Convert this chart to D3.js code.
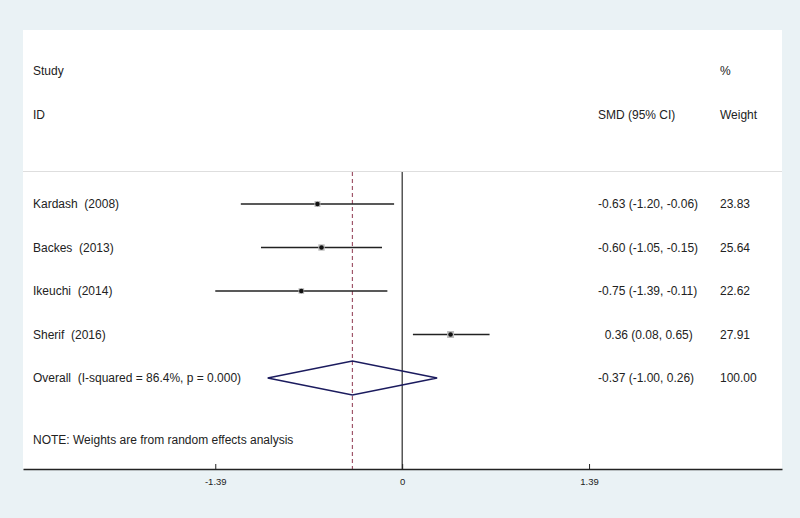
<!DOCTYPE html>
<html><head><meta charset="utf-8">
<script src="https://cdn.jsdelivr.net/npm/d3@7"></script>
<style>
body{margin:0;background:#eaf2f5;}
svg{display:block;font-family:"Liberation Sans",Arial,sans-serif;}
text{white-space:pre;}
</style></head><body>
<svg id="c" width="800" height="518"></svg>
<script>
const studies = ["Kardash  (2008)", "Backes  (2013)", "Ikeuchi  (2014)", "Sherif  (2016)"];
const smd = [-0.63, -0.60, -0.75, 0.36];
const lower = [-1.20, -1.05, -1.39, 0.08];
const upper = [-0.06, -0.15, -0.11, 0.65];
const weights = [23.83, 25.64, 22.62, 27.91];
const overallLabel = "Overall  (I-squared = 86.4%, p = 0.000)";
const overall = [-0.37, -1.00, 0.26];
const tickValues = [-1.39, 0, 1.39];
const tickLabels = ["-1.39", "0", "1.39"];

const svg = d3.select("#c");
svg.append("rect").attr("width",800).attr("height",518).attr("fill","#eaf2f5");
svg.append("rect").attr("x",23).attr("y",30).attr("width",759).attr("height",439).attr("fill","#fff");

const x = d3.scaleLinear().domain([-2.82, 2.825]).range([23, 782]);
const rows = d3.scaleLinear().domain([0, 4]).range([204, 378]);
const fmt = v => d3.format(".2f")(v).replace("\u2212","-");
const fs = 12;

// headers
const hdr = [["Study",33,75],["ID",33,119],["SMD (95% CI)",598,119],["%",720,75],["Weight",720,119]];
hdr.forEach(h=>svg.append("text").attr("x",h[1]).attr("y",h[2]).attr("font-size",fs).attr("fill","#222").text(h[0]));

svg.append("line").attr("x1",23).attr("x2",782).attr("y1",171.5).attr("y2",171.5).attr("stroke","#dedede");

const yTop = 172, yBot = 469;
svg.append("line").attr("x1",x(0)).attr("x2",x(0)).attr("y1",yTop).attr("y2",yBot).attr("stroke","#000").attr("stroke-width",1);
svg.append("line").attr("x1",x(overall[0])).attr("x2",x(overall[0])).attr("y1",yTop).attr("y2",yBot)
  .attr("stroke","#a0566a").attr("stroke-width",1.2).attr("stroke-dasharray","4,3");

studies.forEach((s,i)=>{
  const y = rows(i);
  svg.append("line").attr("x1",x(lower[i])).attr("x2",x(upper[i])).attr("y1",y).attr("y2",y).attr("stroke","#222").attr("stroke-width",1.3);
  const sz = weights[i]*0.25;
  svg.append("rect").attr("x",x(smd[i])-sz/2).attr("y",y-sz/2).attr("width",sz).attr("height",sz).attr("fill","#bdbdbd");
  svg.append("circle").attr("cx",x(smd[i])).attr("cy",y).attr("r",2.3).attr("fill","#111");
  svg.append("text").attr("x",33).attr("y",y+4).attr("font-size",fs).attr("fill","#222").text(s);
  const pre = smd[i] >= 0 ? "  " : "";
  svg.append("text").attr("x",598).attr("y",y+4).attr("font-size",fs).attr("fill","#222")
    .text(`${pre}${fmt(smd[i])} (${fmt(lower[i])}, ${fmt(upper[i])})`);
  svg.append("text").attr("x",720).attr("y",y+4).attr("font-size",fs).attr("fill","#222").text(fmt(weights[i]));
});

// overall
const yo = rows(4);
svg.append("path").attr("d",`M${x(overall[1])},${yo}L${x(overall[0])},${yo-17}L${x(overall[2])},${yo}L${x(overall[0])},${yo+17}Z`)
  .attr("fill","none").attr("stroke","#1b1b5e").attr("stroke-width",1.5);
svg.append("text").attr("x",33).attr("y",yo+4).attr("font-size",fs).attr("fill","#222").text(overallLabel);
svg.append("text").attr("x",598).attr("y",yo+4).attr("font-size",fs).attr("fill","#222")
  .text(`${fmt(overall[0])} (${fmt(overall[1])}, ${fmt(overall[2])})`);
svg.append("text").attr("x",720).attr("y",yo+4).attr("font-size",fs).attr("fill","#222").text("100.00");

svg.append("text").attr("x",33).attr("y",444).attr("font-size",fs).attr("fill","#222").text("NOTE: Weights are from random effects analysis");

// axis
const axis = d3.axisBottom(x).tickValues(tickValues).tickFormat((d,i)=>tickLabels[i]).tickSizeInner(-5).tickSizeOuter(0).tickPadding(9);
const g = svg.append("g").attr("transform",`translate(0,${yBot})`).call(axis);
g.select(".domain").attr("stroke","#222").attr("stroke-width",1.3);
g.selectAll(".tick line").attr("stroke","#222");
g.selectAll(".tick text").attr("font-size",9.5).attr("fill","#222").attr("font-family","'Liberation Sans Narrow','Liberation Sans',Arial,sans-serif");
</script></body></html>
